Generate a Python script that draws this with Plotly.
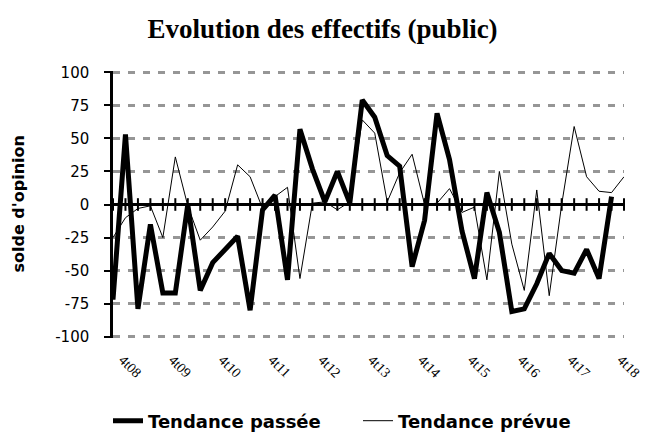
import plotly.graph_objects as go

# Quarterly categories (4t08 .. 1t19)
quarters = [
    "4t08", "1t09", "2t09", "3t09", "4t09", "1t10", "2t10", "3t10", "4t10",
    "1t11", "2t11", "3t11", "4t11", "1t12", "2t12", "3t12", "4t12",
    "1t13", "2t13", "3t13", "4t13", "1t14", "2t14", "3t14", "4t14",
    "1t15", "2t15", "3t15", "4t15", "1t16", "2t16", "3t16", "4t16",
    "1t17", "2t17", "3t17", "4t17", "1t18", "2t18", "3t18", "4t18", "1t19",
]

# Tendance passée (thick line), 4t08 .. 4t18
passee = [
    -72, 53, -79, -15, -67, -67, 0, -65, -44,
    -34, -24, -80, -4, 7, -57, 57, 27,
    2, 25, 1, 79, 66, 37, 29, -47,
    -12, 69, 34, -20, -56, 9, -21, -81,
    -79, -60, -37, -50, -52, -34, -56, 6,
]

# Tendance prévue (thin line), 4t08 .. 1t19
prevue = [
    -25, -10, -3, -1, -25, 36, -1, -27, -17,
    -5, 30, 21, -3, 6, 13, -56, 1,
    2, -4, 2, 64, 54, 2, 24, 38,
    0, 1, 12, -6, -2, -57, 25, -30,
    -65, 11, -69, 0, 59, 21, 10, 9, 21,
]

tick_labels = ["4t08", "4t09", "4t10", "4t11", "4t12", "4t13",
               "4t14", "4t15", "4t16", "4t17", "4t18"]
y_ticks = [-100, -75, -50, -25, 0, 25, 50, 75, 100]
y_tick_text = ["-100", "-75", "-50", "-25", "0", "25", "50", "75", "100"]

fig = go.Figure()

# tick marks crossing the zero line (category axis at y = 0)
fig.add_trace(go.Scatter(
    x=quarters, y=[0] * len(quarters), mode="markers",
    marker=dict(symbol="line-ns", size=9, line=dict(width=2, color="black")),
    showlegend=False, hoverinfo="skip", cliponaxis=False,
))

fig.add_trace(go.Scatter(
    x=quarters[:len(passee)], y=passee, mode="lines",
    name="Tendance passée", line=dict(color="black", width=5),
    cliponaxis=False,
))
fig.add_trace(go.Scatter(
    x=quarters[:len(prevue)], y=prevue, mode="lines",
    name="Tendance prévue", line=dict(color="black", width=1),
    cliponaxis=False,
))

fig.update_layout(
    width=645, height=435,
    margin=dict(l=113, r=21, t=71, b=97, autoexpand=False),
    paper_bgcolor="white", plot_bgcolor="white",
    title=dict(
        text="<b>Evolution des effectifs (public)</b>",
        font=dict(family="Liberation Serif", size=27, color="black"),
        x=0.5, xanchor="center", xref="container",
        y=1 - 29 / 435, yanchor="middle", yref="container",
    ),
    xaxis=dict(
        type="category", categoryorder="array", categoryarray=quarters,
        range=[0, len(quarters) - 1], automargin=False,
        tickmode="array", tickvals=tick_labels, ticktext=tick_labels,
        tickangle=45, ticks="", showgrid=False, showline=False, zeroline=False,
        tickfont=dict(family="Liberation Serif", size=14, color="black"),
        ticklabelstandoff=10, ticklabelshift=10,
    ),
    yaxis=dict(
        range=[-101, 101], tickmode="array", tickvals=y_ticks,
        ticktext=y_tick_text, automargin=False,
        showgrid=True, gridcolor="#969696", gridwidth=2.5, griddash="7px,8px",
        zeroline=True, zerolinecolor="black", zerolinewidth=2.5,
        showline=True, linecolor="black", linewidth=2.5,
        ticks="outside", ticklen=6, tickwidth=2, tickcolor="black",
        tickfont=dict(family="DejaVu Sans", size=15, color="black"),
        ticklabelstandoff=12,
    ),
    legend=dict(
        orientation="h", x=108 / 645, xanchor="left", xref="container",
        y=1 - 421 / 435, yanchor="middle", yref="container",
        font=dict(family="DejaVu Sans", size=18, color="black", weight="bold"),
        entrywidth=205, bgcolor="rgba(0,0,0,0)",
    ),
    annotations=[dict(
        text="<b>solde d'opinion</b>", textangle=-90,
        x=(18 - 113) / 511, xref="paper", xanchor="center",
        y=0.5, yref="paper", yanchor="middle", showarrow=False,
        font=dict(family="DejaVu Sans", size=16, color="black"),
    )],
)

fig.write_html(
    "out.html",
    config={"displayModeBar": False},
    post_script="document.body.style.margin='0px';document.body.style.overflow='hidden';",
)
